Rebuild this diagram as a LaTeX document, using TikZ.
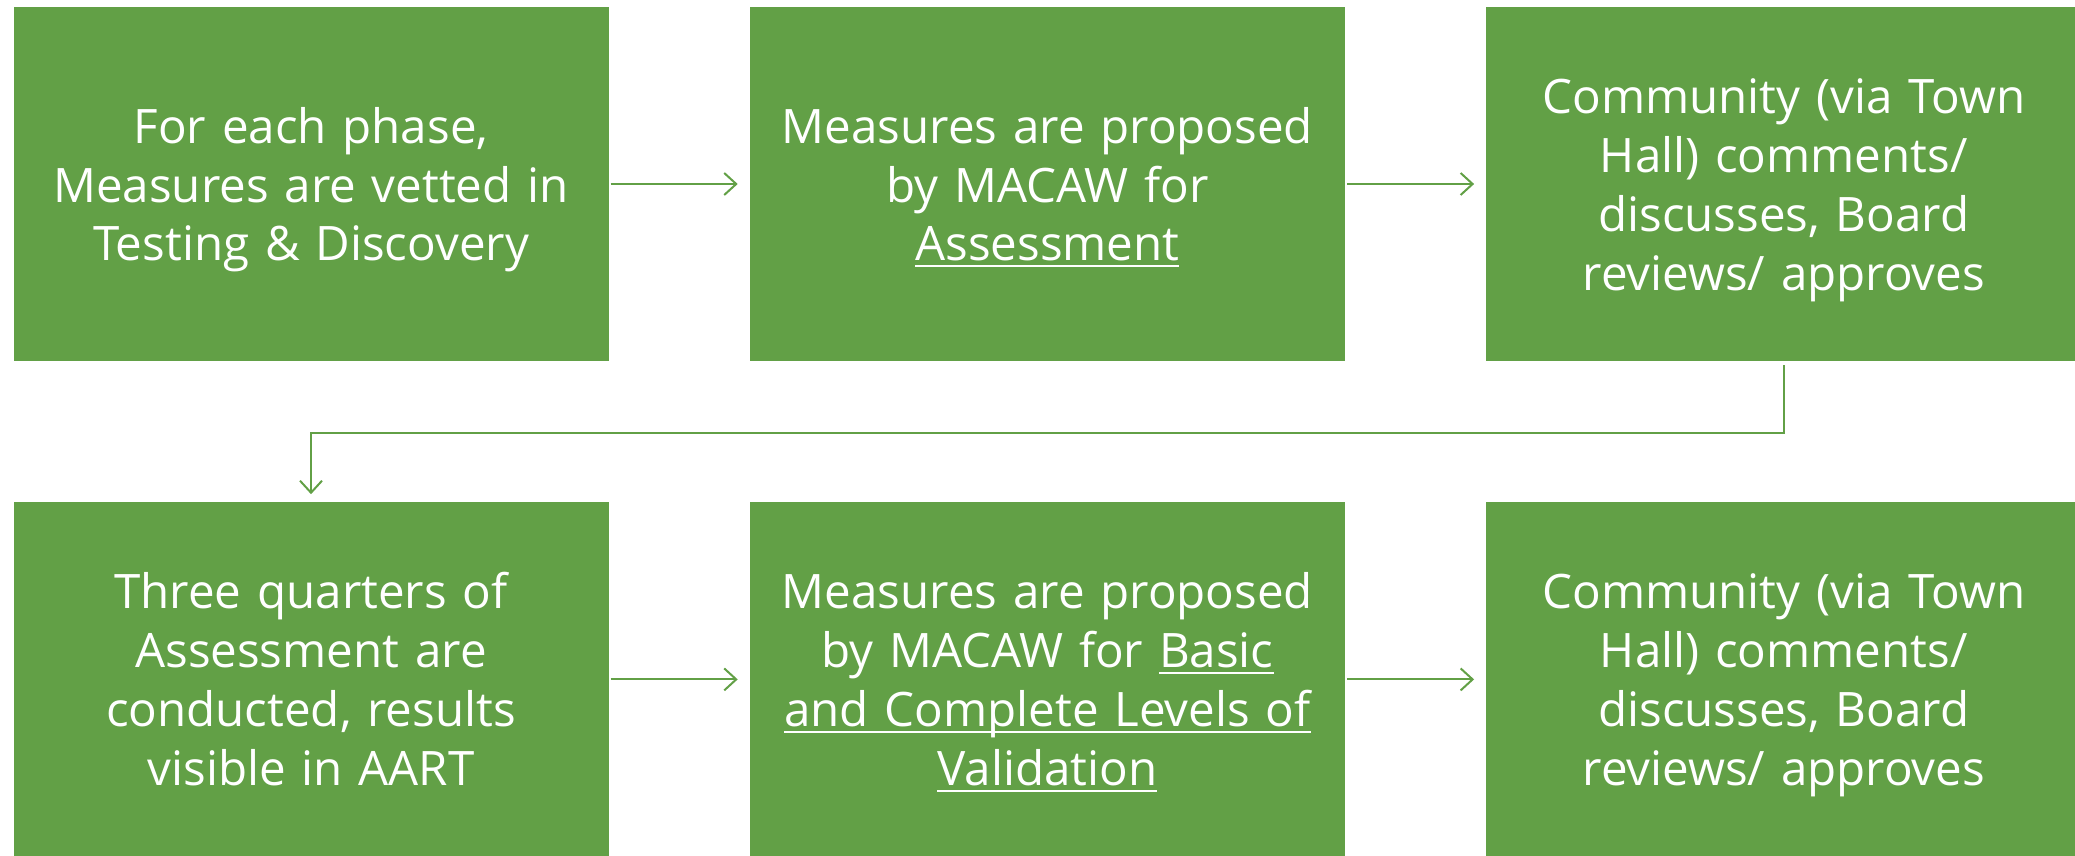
\documentclass[tikz,border=0pt]{standalone}
\usepackage{fontspec}
\setmainfont{Open Sans}
\usetikzlibrary{
	positioning,
	arrows.meta
}
\definecolor{leafgreen}{HTML}{62A046}
\newsavebox\undlbox
\newcommand\undl[1]{\leavevmode\sbox\undlbox{#1}\rlap{\rule[-6pt]{\wd\undlbox}{2pt}}\usebox\undlbox}
\tikzset{
	stepbox/.style={
		fill=leafgreen,
		text=white,
		minimum width=595pt,
		minimum height=354pt,
		text width=570pt,
		align=center,
		inner sep=0pt,
		font=\fontsize{47.5}{59}\selectfont,
		execute at begin node={\rule{0pt}{50pt}},
		execute at end node={\rule[-14pt]{0pt}{14pt}}
	},
	flow/.style={
		draw=leafgreen,
		line width=2pt,
		-{Straight Barb[length=12pt,width=22pt]}
	}
}
\begin{document}
\begin{tikzpicture}[ %%%%%%%% PHASE FLOW
		x=1pt,
		y=-1pt,
		node distance=141pt
		]
		\useasboundingbox (0,0) rectangle (2075,856);
		\node[stepbox] (testing) at (311,184) {For each phase,\\ Measures are vetted in\\ Testing \& Discovery};
		\node[stepbox, right=of testing] (assess) {Measures are proposed\\ by MACAW for\\ \undl{Assessment}};
		\node[stepbox, right=of assess] (townA) {Community (via Town\\ Hall) comments/\\ discusses, Board\\ reviews/ approves};
		\node[stepbox, below=of testing] (quarters) {Three quarters of\\ Assessment are\\ conducted, results\\ visible in AART};
		\node[stepbox, right=of quarters] (validate) {Measures are proposed\\ by MACAW for \undl{Basic}\\ \undl{and Complete Levels of}\\ \undl{Validation}};
		\node[stepbox, right=of validate] (townB) {Community (via Town\\ Hall) comments/\\ discusses, Board\\ reviews/ approves};
		\draw[flow, shorten <=2pt, shorten >=12pt] (testing) -- (assess);
		\draw[flow, shorten <=2pt, shorten >=12pt] (assess) -- (townA);
		\draw[flow, shorten <=4pt, shorten >=8pt] (townA.south) -- ++(0,72) -| (quarters.north);
		\draw[flow, shorten <=2pt, shorten >=12pt] (quarters) -- (validate);
		\draw[flow, shorten <=2pt, shorten >=12pt] (validate) -- (townB);
	\end{tikzpicture}
\end{document}
